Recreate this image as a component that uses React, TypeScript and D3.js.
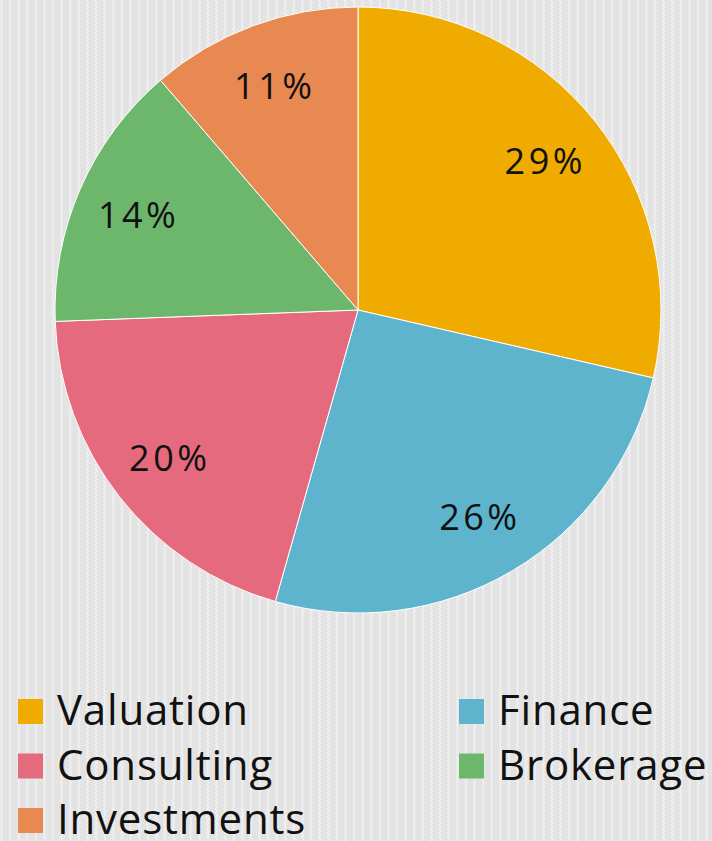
import React from "react";
import * as d3 from "d3";

const categories = ["Valuation", "Finance", "Consulting", "Brokerage", "Investments"];
const values = [28.6, 25.8, 20.0, 14.3, 11.3];
const colors = ["#F0AB00", "#5EB4CD", "#E66A7E", "#6DB76D", "#E88951"];
const legendOrder = ["Valuation", "Finance", "Consulting", "Brokerage", "Investments"];

const W = 712;
const H = 841;
const cx = 358;
const cy = 310;
const R = 303;

export default function App() {
  const total = d3.sum(values);
  const pie = d3.pie<number>().sort(null).value((d) => d)(values);
  const arc = d3.arc<d3.PieArcDatum<number>>().innerRadius(0).outerRadius(R);
  const labelArc = d3.arc<d3.PieArcDatum<number>>().innerRadius(R * 0.79).outerRadius(R * 0.79);
  const color = d3.scaleOrdinal<string, string>().domain(categories).range(colors);
  const fmt = (v: number) => `${Math.round((v / total) * 100)}%`;
  const font = "'Open Sans', Lato, sans-serif";

  return (
    <svg width={W} height={H} style={{ position: "absolute", left: 0, top: 0 }} fontFamily={font}>
      <defs>
        <pattern id="bg" width={8.6} height={4} patternUnits="userSpaceOnUse">
          <rect width={8.6} height={4} fill="#e3e3e3" />
          <rect x={0} width={2} height={2} fill="#f0f0f0" />
          <rect x={1} y={2} width={2} height={2} fill="#f0f0f0" />
        </pattern>
      </defs>
      <rect width={W} height={H} fill="url(#bg)" />
      <g transform={`translate(${cx},${cy})`}>
        {pie.map((d, i) => (
          <path key={i} d={arc(d) || ""} fill={color(categories[i])} stroke="#ffffff" strokeWidth={1} />
        ))}
        {pie.map((d, i) => {
          const [x, y] = labelArc.centroid(d);
          return (
            <text
              key={i}
              x={x}
              y={y}
              textAnchor="middle"
              dominantBaseline="central"
              fontSize={36}
              letterSpacing={3.5}
              fill="#111"
            >
              {fmt(d.value)}
            </text>
          );
        })}
      </g>
      {legendOrder.map((name, i) => {
        const col = i % 2;
        const row = Math.floor(i / 2);
        const x = col === 0 ? 18 : 459;
        const y = 699 + row * 54.5;
        return (
          <g key={name}>
            <rect x={x} y={y} width={25} height={25} fill={color(name)} />
            <text x={x + 39} y={y + 26} fontSize={42} letterSpacing={0.8} fill="#111">
              {name}
            </text>
          </g>
        );
      })}
    </svg>
  );
}
